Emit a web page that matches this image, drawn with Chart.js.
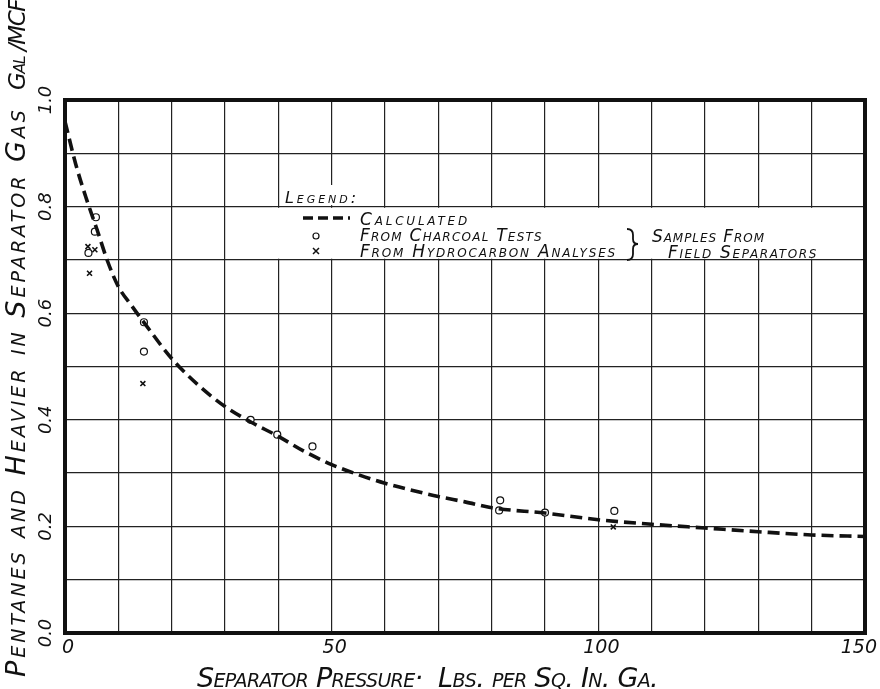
<!DOCTYPE html>
<html>
<head>
<meta charset="utf-8">
<title>Pentanes and Heavier vs Separator Pressure</title>
<script src="https://cdn.jsdelivr.net/npm/chart.js@4"></script>
<style>
  html, body { margin: 0; padding: 0; background: #fff; }
  #wrap { width: 880px; height: 689px; }
</style>
</head>
<body>
<div id="wrap"><canvas id="chart" width="880" height="689"></canvas></div>
<script>
// calculated curve (pressure, gal/MCF)
const calcPressure = [0, 2, 4, 6, 8, 10, 12.5, 15, 20, 25, 30, 35, 40, 45, 50, 55, 60, 65, 70, 75, 80, 90, 100, 110, 120, 130, 140, 150];
const calcGal = [0.96, 0.88, 0.815, 0.757, 0.697, 0.65, 0.614, 0.58, 0.515, 0.465, 0.425, 0.395, 0.369, 0.34, 0.316, 0.297, 0.281, 0.268, 0.256, 0.246, 0.235, 0.225, 0.2125, 0.204, 0.197, 0.19, 0.184, 0.181];

// from charcoal tests
const charcoalPressure = [5.8, 5.6, 4.4, 14.8, 14.8, 34.8, 39.8, 46.4, 81.6, 81.4, 90, 103];
const charcoalGal = [0.78, 0.753, 0.713, 0.583, 0.528, 0.4, 0.372, 0.35, 0.249, 0.23, 0.226, 0.229];

// from hydrocarbon analyses
const hydroPressure = [4.3, 5.6, 4.6, 14.6, 102.8];
const hydroGal = [0.725, 0.719, 0.675, 0.468, 0.199];

const xTickLabels = [0, 50, 100, 150];
const yTickLabels = ['0.0', '0.2', '0.4', '0.6', '0.8', '1.0'];

const HAND = '"DejaVu Sans", sans-serif';
const INK = '#111';

function toPoints(xs, ys) {
    return xs.map((x, i) => ({ x: x, y: ys[i] }));
}

// stretch lettering to a given width, like the hand-lettered original
function fitText(ctx, text, x, y, width) {
    if ('letterSpacing' in ctx) {
        ctx.letterSpacing = '0px';
        const w = ctx.measureText(text).width;
        const ls = (width - w) / text.length;
        ctx.letterSpacing = ls.toFixed(2) + 'px';
    }
    ctx.fillText(text, x, y);
    if ('letterSpacing' in ctx) ctx.letterSpacing = '0px';
}

const paperPlugin = {
    id: 'paper',
    beforeDraw(chart) {
        const c = chart.ctx;
        c.save();
        c.fillStyle = '#fff';
        c.fillRect(0, 0, chart.width, chart.height);
        c.restore();
    },
    afterDatasetsDraw(chart) {
        const c = chart.ctx;
        const ys = chart.scales.y;
        const y8 = ys.getPixelForValue(0.8);
        const y7 = ys.getPixelForValue(0.7);
        c.save();
        // white patches where the legend interrupts the grid
        c.fillStyle = '#fff';
        c.fillRect(281, 185, 84, y8 - 186.5);
        c.fillRect(272, y8 + 1.2, 558, y7 - y8 - 2.4);

        c.fillStyle = INK;
        c.strokeStyle = INK;
        c.textAlign = 'left';
        c.textBaseline = 'alphabetic';

        c.font = 'italic small-caps 16px ' + HAND;
        fitText(c, 'Legend:', 285, 203, 74);

        // dashed sample
        c.lineWidth = 3.5;
        c.setLineDash([10, 5]);
        c.beginPath();
        c.moveTo(303, 218);
        c.lineTo(350, 218);
        c.stroke();
        c.setLineDash([]);

        // circle sample
        c.lineWidth = 1.2;
        c.beginPath();
        c.arc(316, 236, 3, 0, Math.PI * 2);
        c.stroke();

        // cross sample
        c.lineWidth = 1.5;
        c.beginPath();
        c.moveTo(313, 248); c.lineTo(319, 254);
        c.moveTo(319, 248); c.lineTo(313, 254);
        c.stroke();

        c.font = 'italic small-caps 17px ' + HAND;
        fitText(c, 'Calculated', 360, 225, 110);
        fitText(c, 'From Charcoal Tests', 360, 241, 183);
        fitText(c, 'From Hydrocarbon Analyses', 360, 257, 257);

        // brace
        c.lineWidth = 1.8;
        c.beginPath();
        c.moveTo(627, 229);
        c.quadraticCurveTo(633, 229, 633, 235);
        c.lineTo(633, 239);
        c.quadraticCurveTo(633, 244, 638, 244);
        c.quadraticCurveTo(633, 244, 633, 249);
        c.lineTo(633, 254);
        c.quadraticCurveTo(633, 260, 627, 260);
        c.stroke();

        fitText(c, 'Samples From', 652, 242, 113);
        fitText(c, 'Field Separators', 668, 258, 150);
        c.restore();
    },
    afterDraw(chart) {
        const c = chart.ctx;
        const a = chart.chartArea;
        const xs = chart.scales.x;
        const ys = chart.scales.y;
        c.save();
        // heavy frame
        c.strokeStyle = INK;
        c.lineWidth = 4;
        c.strokeRect(a.left, a.top, a.right - a.left, a.bottom - a.top);

        c.fillStyle = INK;
        // x tick labels, kept inside the page
        c.font = 'italic 19px ' + HAND;
        c.textAlign = 'center';
        c.textBaseline = 'top';
        xTickLabels.forEach(v => {
            const w = c.measureText(String(v)).width;
            const px = Math.min(xs.getPixelForValue(v) + 3, chart.width - w / 2 - 3);
            c.fillText(String(v), px, a.bottom + 6);
        });

        // y tick labels, written upward
        c.font = 'italic 18px ' + HAND;
        c.textBaseline = 'alphabetic';
        yTickLabels.forEach(lbl => {
            const py = ys.getPixelForValue(parseFloat(lbl));
            c.save();
            c.translate(51, py);
            c.rotate(-Math.PI / 2);
            c.fillText(lbl, 0, 0);
            c.restore();
        });

        // y title
        c.font = 'italic small-caps 27px ' + HAND;
        c.textAlign = 'left';
        c.save();
        c.translate(25, 677);
        c.rotate(-Math.PI / 2);
        fitText(c, 'Pentanes and Heavier in Separator Gas', 0, 0, 570);
        c.restore();
        c.font = 'italic small-caps 23px ' + HAND;
        c.save();
        c.translate(25, 90);
        c.rotate(-Math.PI / 2);
        fitText(c, 'Gal /MCF', 0, 0, 90);
        c.restore();

        // x title
        c.font = 'italic small-caps 27px ' + HAND;
        fitText(c, 'Separator Pressure·  Lbs. per Sq. In. Ga.', 197, 687, 461);
        c.restore();
    }
};

const ctx = document.getElementById('chart').getContext('2d');
const chart = new Chart(ctx, {
    type: 'scatter',
    data: {
        datasets: [
            {
                type: 'line',
                label: 'Calculated',
                data: toPoints(calcPressure, calcGal),
                borderColor: INK,
                borderWidth: 3.6,
                borderDash: [12, 6],
                pointRadius: 0,
                fill: false,
                cubicInterpolationMode: 'monotone'
            },
            {
                label: 'From Charcoal Tests',
                data: toPoints(charcoalPressure, charcoalGal),
                pointStyle: 'circle',
                pointRadius: 3.5,
                borderColor: INK,
                backgroundColor: '#fff',
                borderWidth: 1.2
            },
            {
                label: 'From Hydrocarbon Analyses',
                data: toPoints(hydroPressure, hydroGal),
                pointStyle: 'crossRot',
                pointRadius: 3.5,
                borderColor: INK,
                borderWidth: 1.6
            }
        ]
    },
    options: {
        responsive: false,
        devicePixelRatio: 1,
        animation: false,
        layout: { padding: { left: 0, top: 100, right: 15, bottom: 0 } },
        plugins: {
            legend: { display: false },
            tooltip: { enabled: false },
            title: { display: false }
        },
        scales: {
            x: {
                type: 'linear',
                min: 0,
                max: 150,
                border: { display: false },
                grid: { color: '#222', lineWidth: 1.2, drawTicks: false },
                ticks: { stepSize: 10, autoSkip: false, display: false },
                afterFit: function(scale) {
                    scale.height = 56;
                    scale.paddingLeft = 0;
                    scale.paddingRight = 0;
                }
            },
            y: {
                type: 'linear',
                min: 0,
                max: 1.0,
                border: { display: false },
                grid: { color: '#222', lineWidth: 1.2, drawTicks: false },
                ticks: { stepSize: 0.1, display: false },
                afterFit: function(scale) { scale.width = 65; }
            }
        }
    },
    plugins: [paperPlugin]
});
</script>
</body>
</html>
